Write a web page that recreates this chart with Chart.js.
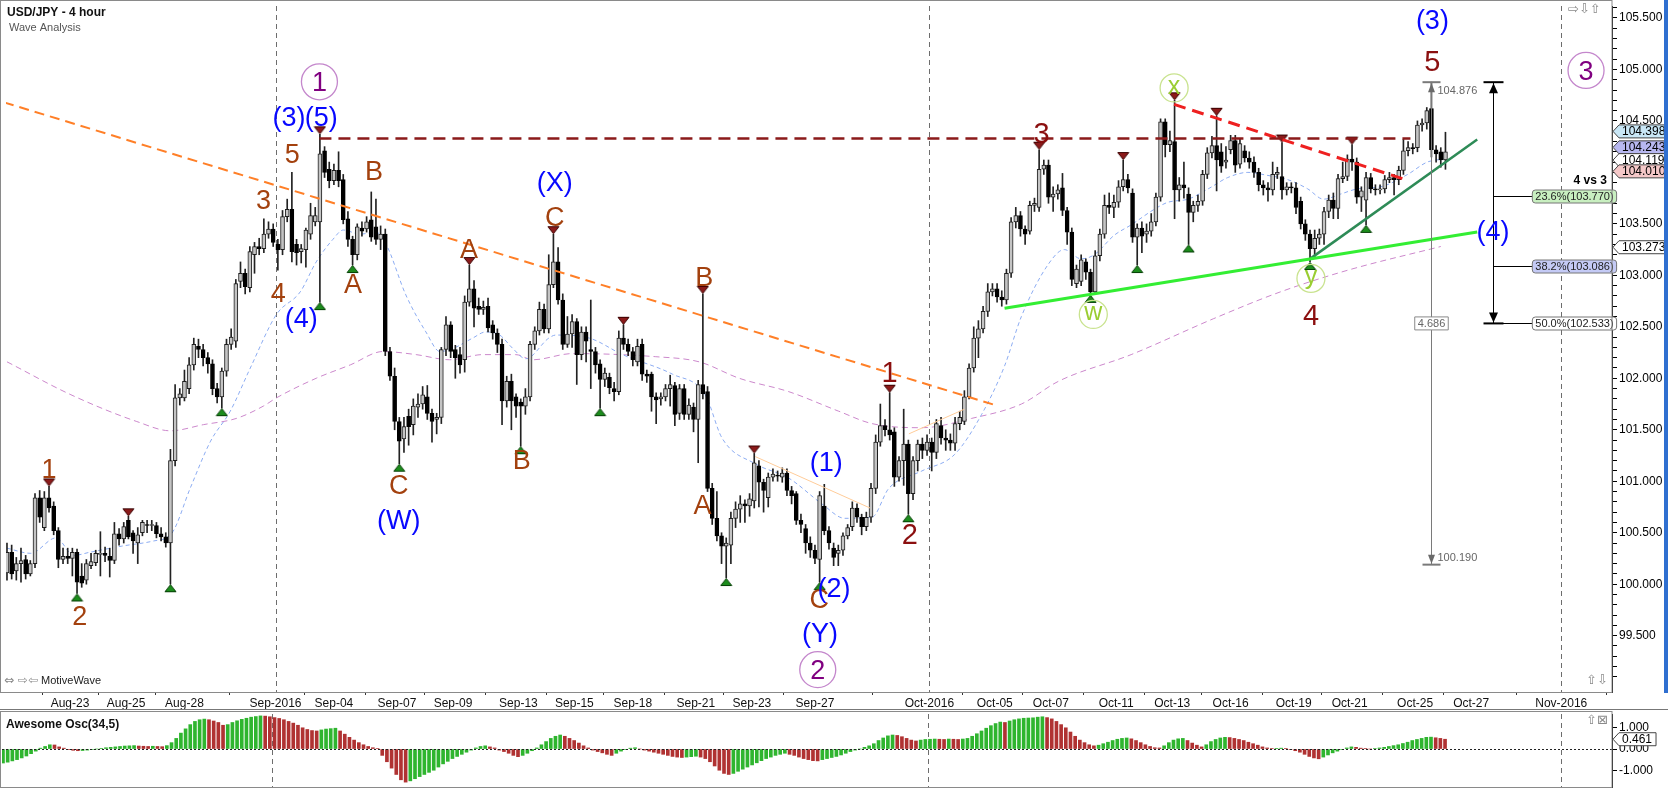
<!DOCTYPE html>
<html>
<head>
<meta charset="utf-8">
<title>USD/JPY - 4 hour</title>
<script src="https://cdn.jsdelivr.net/npm/chart.js@4.4.0/dist/chart.umd.min.js"></script>
<style>
  html, body { margin: 0; padding: 0; background: #fff; overflow: hidden; }
  #wrap { position: relative; width: 1668px; height: 789px; }
  canvas { position: absolute; left: 0; }
  #main { top: 0; }
  #osc { top: 711px; }
  #edge { position: absolute; left: 1664px; top: 0; width: 4px; height: 693px; background: #2f6fd0; }
</style>
</head>
<body>
<div id="wrap">
  <canvas id="main" width="1668" height="711"></canvas>
  <canvas id="osc" width="1668" height="78"></canvas>
  <div id="edge"></div>
</div>
<script>
// 4-hour candles [open, high, low, close], one array per trading week
const wkAug19 = [
  [100.11,100.40,100.04,100.31],[100.31,100.38,100.05,100.10],[100.13,100.26,100.04,100.20],[100.20,100.35,100.02,100.23],
  [100.24,100.28,100.05,100.10],[100.10,100.23,100.08,100.20]
];
const wkAug21 = [
  [100.20,100.88,100.16,100.84],[100.84,100.91,100.60,100.65],[100.55,100.90,100.52,100.84],[100.84,100.95,100.70,100.74],
  [100.76,100.80,100.48,100.52],[100.52,100.55,100.16,100.24],[100.24,100.35,100.20,100.27],[100.27,100.35,100.20,100.25],
  [100.25,100.35,100.08,100.31],[100.31,100.34,99.91,100.02],[100.08,100.20,99.97,100.01],[100.04,100.24,100.00,100.20],
  [100.18,100.30,100.15,100.22],[100.21,100.33,100.18,100.30],[100.29,100.51,100.08,100.30],[100.30,100.36,100.22,100.28],
  [100.27,100.35,100.07,100.23],[100.23,100.60,100.20,100.49],[100.49,100.54,100.38,100.44],[100.44,100.60,100.40,100.56],
  [100.62,100.66,100.44,100.46],[100.50,100.52,100.30,100.42],[100.40,100.55,100.20,100.48],[100.50,100.62,100.47,100.60],
  [100.58,100.62,100.50,100.57],[100.57,100.62,100.52,100.58],[100.57,100.60,100.45,100.49],[100.49,100.55,100.42,100.46],
  [100.46,100.50,100.36,100.40],[100.40,101.31,100.00,101.20],[101.20,101.94,101.15,101.81],[101.81,101.90,101.74,101.85]
];
const wkAug28 = [
  [101.81,102.08,101.78,101.97],[101.90,102.20,101.85,102.13],[102.13,102.39,102.08,102.33],[102.31,102.38,102.20,102.28],
  [102.28,102.33,102.12,102.20],[102.20,102.25,102.05,102.14],[102.14,102.18,101.84,101.90],[101.90,101.95,101.76,101.82],
  [101.82,102.10,101.71,102.07],[102.07,102.38,102.02,102.33],[102.33,102.48,102.28,102.40],[102.36,102.96,102.30,102.92],
  [102.94,103.13,102.88,103.02],[103.02,103.06,102.82,102.89],[102.88,103.28,102.84,103.23],[103.20,103.32,103.02,103.28],
  [103.28,103.36,103.20,103.26],[103.26,103.55,103.22,103.40],[103.40,103.52,103.36,103.45],[103.45,103.50,103.28,103.32],
  [103.30,103.35,103.05,103.25],[103.25,103.63,103.20,103.57],[103.57,103.74,103.52,103.64],[103.64,104.00,103.13,103.23],
  [103.30,103.35,103.10,103.22],[103.23,103.30,103.12,103.26],[103.25,103.46,103.08,103.44],[103.40,103.70,103.35,103.58],
  [103.52,103.66,103.48,103.58],[103.52,104.37,102.74,104.18],[104.21,104.25,103.95,104.00],[104.03,104.10,103.85,103.92]
];
const wkSep04 = [
  [103.92,104.08,103.88,104.02],[104.02,104.20,103.86,103.92],[103.93,103.98,103.50,103.54],[103.55,103.62,103.28,103.35],
  [103.35,103.38,103.10,103.20],[103.20,103.50,103.15,103.47],[103.46,103.52,103.38,103.43],[103.45,103.57,103.42,103.52],
  [103.54,103.81,103.33,103.37],[103.47,103.74,103.30,103.35],[103.35,103.48,103.25,103.40],[103.40,103.45,102.22,102.26],
  [102.26,102.30,101.98,102.02],[102.02,102.10,101.50,101.58],[101.58,101.62,101.17,101.39],[101.41,101.62,101.28,101.53],
  [101.63,101.70,101.35,101.53],[101.55,101.80,101.45,101.73],[101.72,101.85,101.62,101.75],[101.75,101.92,101.70,101.84],
  [101.82,101.93,101.60,101.66],[101.66,101.70,101.38,101.58],[101.60,101.66,101.46,101.62],[101.62,102.30,101.56,102.28],
  [102.28,102.60,102.22,102.52],[102.52,102.55,102.20,102.26],[102.28,102.32,102.00,102.20],[102.23,102.30,102.05,102.13],
  [102.18,102.80,102.06,102.74],[102.74,103.10,102.70,102.87],[102.87,102.95,102.50,102.68],[102.70,102.78,102.62,102.67]
];
const wkSep11 = [
  [102.67,102.75,102.62,102.69],[102.70,102.78,102.45,102.49],[102.52,102.56,102.38,102.44],[102.44,102.48,102.25,102.33],
  [102.33,102.38,101.55,101.78],[101.78,102.02,101.72,101.97],[101.97,102.04,101.50,101.78],[101.82,101.85,101.62,101.73],
  [101.77,101.80,101.34,101.73],[101.73,101.90,101.65,101.82],[101.82,102.36,101.78,102.33],[102.33,102.50,102.28,102.46],
  [102.46,102.74,102.42,102.67],[102.67,102.72,102.44,102.48],[102.48,103.20,102.44,102.91],[102.91,103.40,102.88,103.13],
  [103.13,103.27,102.72,102.76],[102.76,102.82,102.28,102.33],[102.33,102.60,102.30,102.43],[102.43,102.62,102.30,102.55],
  [102.55,102.58,101.94,102.23],[102.23,102.50,102.18,102.45],[102.45,102.50,102.16,102.36],[102.28,102.76,101.90,102.26],
  [102.26,102.30,102.05,102.13],[102.14,102.18,101.71,101.99],[101.99,102.10,101.92,102.05],[102.01,102.05,101.85,101.91],
  [101.90,101.96,101.78,101.87],[101.87,102.46,101.84,102.39],[102.39,102.52,102.28,102.33],[102.33,102.38,102.22,102.26]
];
const wkSep18 = [
  [102.26,102.30,102.12,102.18],[102.16,102.38,102.12,102.31],[102.33,102.38,101.98,102.04],[102.04,102.08,101.96,102.02],
  [102.04,102.06,101.68,101.82],[101.82,101.86,101.56,101.79],[101.80,101.86,101.74,101.82],[101.82,101.94,101.78,101.90],
  [101.90,102.03,101.73,101.94],[101.93,101.96,101.54,101.65],[101.66,101.94,101.60,101.90],[101.90,101.94,101.60,101.65],
  [101.65,101.80,101.60,101.74],[101.72,101.76,101.48,101.60],[101.60,101.98,101.18,101.94],[101.94,102.82,101.80,101.85],
  [101.87,101.92,100.90,100.93],[100.93,100.98,100.58,100.64],[100.64,100.90,100.42,100.47],[100.47,100.50,100.20,100.37],
  [100.37,100.45,100.06,100.40],[100.38,100.70,100.20,100.64],[100.64,100.80,100.55,100.73],[100.73,100.86,100.60,100.78],
  [100.78,100.82,100.60,100.76],[100.76,100.88,100.66,100.83],[100.81,101.27,100.74,101.18],[101.15,101.20,100.75,100.99],
  [100.99,101.02,100.70,100.91],[100.84,101.08,100.75,101.04],[101.04,101.12,101.00,101.07],[101.06,101.10,101.00,101.05]
];
const wkSep25 = [
  [101.04,101.13,100.99,101.08],[101.08,101.12,100.86,100.91],[100.91,100.95,100.78,100.86],[100.88,100.90,100.58,100.62],
  [100.62,100.68,100.50,100.58],[100.54,100.58,100.30,100.40],[100.40,100.46,100.26,100.33],[100.33,100.38,100.20,100.25],
  [100.24,100.90,100.02,100.86],[100.76,100.97,100.48,100.52],[100.52,100.56,100.34,100.40],[100.35,100.40,100.18,100.26],
  [100.30,100.38,100.18,100.33],[100.33,100.50,100.28,100.47],[100.47,100.58,100.44,100.55],[100.56,100.80,100.52,100.74],
  [100.74,100.78,100.60,100.65],[100.65,100.68,100.48,100.56],[100.56,100.70,100.52,100.65],[100.65,100.98,100.60,100.93],
  [100.93,101.45,100.88,101.38],[101.38,101.75,101.34,101.54],[101.54,101.60,101.44,101.50],[101.50,101.86,101.40,101.45],
  [101.48,101.52,100.95,101.04],[101.04,101.24,101.00,101.20],[101.20,101.70,100.96,101.36],[101.36,101.40,100.68,100.88],
  [100.88,101.24,100.82,101.20],[101.20,101.40,101.10,101.36],[101.36,101.42,101.22,101.30],[101.30,101.45,101.25,101.38]
];
const wkOct02 = [
  [101.38,101.42,101.10,101.28],[101.28,101.60,101.22,101.56],[101.54,101.62,101.36,101.42],[101.42,101.50,101.30,101.40],
  [101.40,101.46,101.30,101.37],[101.37,101.62,101.30,101.56],[101.56,101.68,101.50,101.62],[101.58,101.88,101.55,101.82],
  [101.82,102.14,101.80,102.10],[102.10,102.50,102.06,102.39],[102.39,102.56,102.20,102.48],[102.48,102.70,102.44,102.65],
  [102.65,102.92,102.60,102.84],[102.84,102.92,102.80,102.87],[102.87,102.92,102.74,102.79],[102.79,102.85,102.70,102.76],
  [102.76,103.06,102.72,103.02],[103.02,103.56,102.98,103.52],[103.52,103.66,103.46,103.58],[103.58,103.62,103.38,103.45],
  [103.45,103.48,103.30,103.40],[103.43,103.72,103.40,103.68],[103.68,103.75,103.62,103.70],[103.66,104.22,103.62,104.03],
  [104.03,104.12,103.98,104.07],[104.07,104.12,103.70,103.76],[103.76,103.86,103.62,103.79],[103.79,103.88,103.74,103.83],
  [103.85,103.99,103.58,103.63],[103.63,103.66,103.30,103.42],[103.42,103.46,102.90,102.96],[102.92,103.10,102.88,103.06]
];
const wkOct09 = [
  [102.94,103.20,102.90,103.15],[103.13,103.16,102.96,103.03],[103.03,103.06,102.81,102.84],[102.84,103.24,102.82,103.19],
  [103.19,103.45,103.14,103.40],[103.40,103.78,103.36,103.68],[103.68,103.80,103.60,103.66],[103.66,103.78,103.56,103.71],
  [103.71,103.92,103.66,103.86],[103.86,104.12,103.82,103.93],[103.93,103.98,103.80,103.85],[103.80,103.84,103.32,103.37],
  [103.37,103.50,103.10,103.46],[103.46,103.52,103.22,103.38],[103.40,103.50,103.32,103.43],[103.43,103.60,103.38,103.52],
  [103.52,103.80,103.48,103.76],[103.76,104.52,103.72,104.49],[104.49,104.52,104.15,104.27],[104.27,104.40,104.20,104.31],
  [104.30,104.70,103.55,103.83],[103.83,103.95,103.72,103.88],[103.88,104.10,103.75,103.85],[103.79,103.85,103.30,103.61],
  [103.61,103.72,103.52,103.68],[103.68,103.78,103.62,103.72],[103.72,104.02,103.68,103.98],[103.98,104.24,103.94,104.19],
  [104.19,104.35,104.14,104.26],[104.26,104.55,103.82,104.12],[104.20,104.28,104.00,104.06],[104.10,104.25,104.04,104.12]
];
const wkOct16 = [
  [104.22,104.36,104.18,104.31],[104.31,104.36,104.00,104.07],[104.08,104.33,104.04,104.28],[104.21,104.26,104.10,104.14],
  [104.14,104.20,104.04,104.10],[104.10,104.15,103.95,104.00],[104.00,104.04,103.82,103.88],[103.88,103.92,103.78,103.85],
  [103.85,103.90,103.72,103.83],[103.83,104.10,103.78,103.98],[103.98,104.05,103.94,104.00],[103.96,104.29,103.74,103.83],
  [103.83,103.90,103.78,103.86],[103.86,103.90,103.80,103.85],[103.85,103.90,103.60,103.66],[103.72,103.76,103.45,103.50],
  [103.50,103.54,103.34,103.40],[103.40,103.44,103.13,103.26],[103.26,103.44,103.18,103.36],[103.36,103.45,103.30,103.40],
  [103.40,103.66,103.30,103.62],[103.62,103.78,103.56,103.73],[103.73,103.80,103.55,103.65],[103.65,103.98,103.55,103.94],
  [103.94,104.10,103.90,103.96],[103.96,104.17,103.92,104.13],[104.13,104.27,104.02,104.10],[104.10,104.14,103.70,103.76],
  [103.76,103.86,103.62,103.82],[103.73,104.00,103.49,103.95],[103.95,103.99,103.80,103.84],[103.84,103.88,103.78,103.83]
];
const wkOct23 = [
  [103.83,103.88,103.79,103.84],[103.84,103.97,103.80,103.93],[103.93,104.00,103.90,103.95],[103.95,103.98,103.78,103.93],
  [103.93,104.06,103.88,104.02],[104.02,104.32,103.98,104.21],[104.21,104.30,104.16,104.24],[104.24,104.28,104.18,104.23],
  [104.24,104.50,104.20,104.46],[104.46,104.52,104.40,104.48],[104.48,104.63,104.42,104.60],[104.62,104.876,104.15,104.22],
  [104.22,104.26,104.10,104.18],[104.20,104.24,104.05,104.12],[104.12,104.39,104.03,104.20]
];

// Awesome Oscillator (34,5), one value per candle
const aoValues = [
  -0.66,-0.62,-0.56,-0.5,-0.42,-0.33,-0.22,-0.1,0.04,0.12,
  0.2,0.19,0.1,0.04,-0.02,-0.06,-0.08,-0.07,-0.05,-0.02,
  0,0.03,0.06,0.08,0.1,0.12,0.14,0.15,0.16,0.14,
  0.13,0.12,0.13,0.12,0.11,0.16,0.3,0.5,0.75,0.95,
  1.15,1.3,1.38,1.41,1.38,1.32,1.25,1.12,1.15,1.25,
  1.33,1.4,1.45,1.5,1.53,1.56,1.55,1.52,1.48,1.44,
  1.38,1.3,1.22,1.12,1.0,0.92,0.87,0.85,0.9,0.94,
  0.96,0.98,0.85,0.7,0.55,0.42,0.3,0.2,0.12,0.06,
  0.02,-0.3,-0.6,-0.9,-1.2,-1.45,-1.56,-1.5,-1.4,-1.3,
  -1.2,-1.1,-1.0,-0.85,-0.7,-0.58,-0.45,-0.35,-0.25,-0.15,
  -0.05,0.05,0.12,0.15,0.1,0.05,-0.05,-0.12,-0.2,-0.3,
  -0.36,-0.3,-0.2,-0.08,0.05,0.2,0.35,0.5,0.6,0.66,
  0.6,0.5,0.4,0.28,0.15,0.05,-0.05,-0.12,-0.18,-0.25,
  -0.3,-0.2,-0.1,-0.02,0.04,0.06,0,-0.05,-0.1,-0.15,
  -0.2,-0.25,-0.3,-0.35,-0.38,-0.4,-0.38,-0.36,-0.34,-0.38,
  -0.45,-0.6,-0.8,-1.0,-1.15,-1.2,-1.15,-1.05,-0.95,-0.85,
  -0.75,-0.65,-0.55,-0.45,-0.38,-0.3,-0.25,-0.2,-0.25,-0.3,
  -0.38,-0.45,-0.5,-0.55,-0.56,-0.5,-0.45,-0.4,-0.35,-0.28,
  -0.2,-0.12,-0.05,0,0.08,0.15,0.25,0.4,0.52,0.62,
  0.66,0.64,0.58,0.5,0.42,0.38,0.42,0.45,0.46,0.47,
  0.46,0.45,0.47,0.46,0.45,0.47,0.5,0.6,0.72,0.85,
  0.98,1.1,1.2,1.27,1.25,1.32,1.38,1.42,1.45,1.46,
  1.47,1.5,1.52,1.48,1.42,1.3,1.15,1.0,0.8,0.6,
  0.42,0.3,0.2,0.15,0.18,0.25,0.32,0.4,0.46,0.5,
  0.52,0.48,0.4,0.3,0.2,0.12,0.06,0.05,0.15,0.3,
  0.42,0.48,0.5,0.4,0.28,0.18,0.1,0.2,0.35,0.45,
  0.52,0.55,0.54,0.5,0.45,0.4,0.32,0.25,0.18,0.1,
  0.05,0.02,0.03,0.04,0.02,-0.02,-0.08,-0.15,-0.25,-0.35,
  -0.42,-0.46,-0.38,-0.28,-0.18,-0.1,-0.02,0.05,0.1,0.08,
  0.04,0.02,0,0.02,0.05,0.08,0.12,0.16,0.2,0.26,
  0.32,0.4,0.45,0.5,0.55,0.56,0.53,0.5,0.461
];

// moving averages: [candle index, price]
const fastMa = [
  [0,100.35],[5.1,100.30],[10.5,100.45],[14.3,100.28],[17.7,100.31],[24.6,100.37],[31.4,100.42],[35.2,100.49],
  [39.3,100.94],[43.6,101.39],[47.8,101.68],[52.1,102.10],[57.7,102.62],[62.8,102.84],[66.2,103.13],[69.8,103.35],
  [72,103.44],[75.6,103.40],[79,103.42],[81.2,103.30],[85.4,102.81],[89.7,102.45],[92.7,102.26],[95.5,102.29],
  [99.7,102.39],[102.5,102.45],[105.5,102.42],[108.3,102.29],[111.1,102.19],[116,102.39],[117.5,102.42],[124.7,102.39],
  [131.8,102.23],[142.5,102.04],[149.5,101.84],[153.1,101.42],[160.2,101.17],[167.4,101.03],[174.5,100.78],[179.4,100.64],
  [185.2,100.65],[188.8,100.93],[195.9,101.10],[202.9,101.26],[208.7,101.65],[213.6,102.12],[217.2,102.60],[223,103.11],
  [226.4,103.25],[230,103.16],[232.8,103.20],[237.1,103.39],[240.7,103.49],[245.6,103.64],[248.6,103.71],[252.9,103.74],
  [257.2,103.84],[261.4,103.95],[265.7,104.00],[270,103.97],[274.2,103.93],[278.5,103.84],[281.9,103.74],[285.6,103.79],
  [289.2,103.84],[294.1,103.86],[299.9,103.98],[304.1,104.10],[307.6,104.13]
];
const slowMa = [
  [0,102.16],[13.7,101.84],[27.8,101.58],[35,101.49],[42.1,101.55],[49.1,101.61],[54.9,101.73],[57.7,101.81],
  [66.2,102.00],[73.5,102.13],[80.5,102.26],[87.6,102.23],[94.8,102.18],[101.9,102.23],[108.9,102.23],[112.6,102.18],
  [121.1,102.24],[138.8,102.21],[148.2,102.16],[156.8,102.00],[167.4,101.87],[178.1,101.68],[185.2,101.56],[195.9,101.52],
  [206.5,101.61],[217.2,101.75],[225.1,101.97],[240.7,102.23],[258.4,102.58],[272.7,102.84],[287.1,103.05],[307,103.28]
];

// time axis
const dateTickIdx = [13.5,25.5,38,57.5,70,83.5,95.5,109.5,121.5,134,147.5,159.5,173,197.5,211.5,223.5,237.5,249.5,262,275.5,287.5,301.5,313.5,332.8];
const dateTickLabels = ['Aug-23','Aug-25','Aug-28','Sep-2016','Sep-04','Sep-07','Sep-09','Sep-13','Sep-15','Sep-18','Sep-21','Sep-23','Sep-27','Oct-2016','Oct-05','Oct-07','Oct-11','Oct-13','Oct-16','Oct-19','Oct-21','Oct-25','Oct-27','Nov-2016'];
const monthLineIdx = [57.5, 197.5, 332.8];

// price axis: labelled levels every 0.5, small ticks every 0.1
const priceLabelMin = 99.5, priceLabelMax = 105.5;

// swing markers (candle indices)
const highMarks = [9, 26, 67, 99, 117, 132, 149, 160, 189, 221, 239, 250, 259, 273, 288];
const lowMarks = [15, 35, 46, 67, 74, 84, 110, 127, 154, 174, 193, 232, 242, 253, 279, 291];

// price tags on the right axis
const axisTags = [[104.398,'#c9e7f6'],[104.243,'#b7b7f0'],[104.119,'#ffffff'],[104.010,'#f5c8c8'],[103.273,'#ffffff']];

// wave labels: [text, candle index, price, style]
const waveLabels = [
  ['1',9.0,101.13,'brown'],['2',15.6,99.70,'brown'],['3',54.9,103.74,'brown'],['4',58.1,102.84,'brown'],
  ['5',61.1,104.19,'brown'],['(3)',60.4,104.53,'blue'],['(5)',67.3,104.53,'blue'],['(4)',63.0,102.58,'blue'],
  ['A',74.1,102.92,'brown'],['B',78.6,104.02,'brown'],['C',83.9,100.97,'brown'],['(W)',83.9,100.62,'blue'],
  ['A',98.9,103.26,'brown'],['B',110.2,101.21,'brown'],['C',117.3,103.57,'brown'],['(X)',117.3,103.90,'blue'],
  ['B',149.3,102.99,'brown'],['A',148.9,100.78,'brown'],['(1)',175.4,101.18,'blue'],['C',173.9,99.86,'brown'],
  ['(2)',177.1,99.96,'blue'],['(Y)',174.1,99.52,'blue'],['1',189.0,102.07,'maroon'],['2',193.3,100.49,'maroon'],
  ['3',221.5,104.39,'maroon'],['4',279.2,102.62,'maroon'],['5',305.2,105.09,'maroon'],['(3)',305.2,105.47,'blue'],
  ['(4)',318.2,103.42,'blue']
];
const circledLabels = [
  ['1',66.9,104.88,'purple'],['2',173.6,99.17,'purple'],['3',338.1,104.99,'purple'],
  ['x',249.9,104.82,'lime'],['w',232.6,102.62,'lime'],['y',279.2,102.97,'lime']
];

// drawn lines: endpoints in [candle index, price]
const trendLines = [
  { pts: [[-0.64,104.68],[212.3,101.73]], color: '#ff7f27', width: 2, dash: [10,6] },
  { pts: [[66.9,104.33],[300.5,104.33]], color: '#8b1a1a', width: 2.5, dash: [12,7] },
  { pts: [[249.9,104.66],[300.1,103.92]], color: '#ee2020', width: 3, dash: [12,7] },
  { pts: [[213.6,102.68],[314.8,103.42]], color: '#33ee33', width: 3, dash: [] },
  { pts: [[278.7,103.15],[314.8,104.32]], color: '#2e8b57', width: 2.5, dash: [] },
  { pts: [[160.2,101.24],[184.8,100.74]], color: '#ffcc99', width: 1, dash: [] },
  { pts: [[193.1,101.46],[205.0,101.70]], color: '#ffcc99', width: 1, dash: [] }
];

// measurement of wave (3) and its retracement levels
const measureTool = { idx: 305, from: 104.876, to: 100.190 };
const fibTool = { idx: 318.2, boxIdx: 326.6, ratios: [0.236, 0.382, 0.5], colors: ['#c8efc0','#c4caf5','#ffffff'] };

const candles = [].concat(wkAug19, wkAug21, wkAug28, wkSep04, wkSep11, wkSep18, wkSep25, wkOct02, wkOct09, wkOct16, wkOct23);

const X_MIN = -0.21, X_MAX = 343.66;
const Y_MIN = 98.953, Y_MAX = 105.616;
const FONT = "'Liberation Sans', Arial, sans-serif";

Chart.defaults.font.family = FONT;
Chart.defaults.font.size = 12;
Chart.defaults.color = '#000';

function triImage(down, fill, stroke) {
  const c = document.createElement('canvas');
  c.width = 13; c.height = 18;
  const g = c.getContext('2d');
  g.beginPath();
  if (down) { g.moveTo(1, 1.5); g.lineTo(12, 1.5); g.lineTo(6.5, 8.5); }
  else { g.moveTo(1, 16.5); g.lineTo(12, 16.5); g.lineTo(6.5, 9.5); }
  g.closePath();
  g.fillStyle = fill; g.fill();
  g.strokeStyle = stroke; g.lineWidth = 1; g.stroke();
  return c;
}
const downTri = triImage(true, '#8b1a1a', '#3a0000');
const upTri = triImage(false, '#1c8c1c', '#064006');

function line(ctx, x1, y1, x2, y2) {
  ctx.beginPath(); ctx.moveTo(x1, y1); ctx.lineTo(x2, y2); ctx.stroke();
}
function arrowHead(ctx, x, y, w, h, up, fill) {
  ctx.beginPath(); ctx.moveTo(x, y);
  const by = up ? y + h : y - h;
  ctx.lineTo(x - w / 2, by); ctx.lineTo(x + w / 2, by); ctx.closePath();
  ctx.fillStyle = fill; ctx.fill();
}
function box(ctx, x, y, w, h, r, bg, border) {
  ctx.beginPath();
  if (ctx.roundRect) ctx.roundRect(x, y, w, h, r); else ctx.rect(x, y, w, h);
  ctx.fillStyle = bg; ctx.fill();
  ctx.strokeStyle = border; ctx.lineWidth = 1; ctx.stroke();
}
function axisTag(ctx, x, y, text, bg) {
  ctx.font = '12px ' + FONT;
  const w = ctx.measureText(text).width + 6;
  ctx.beginPath();
  ctx.moveTo(x + 1, y);
  ctx.lineTo(x + 7, y - 6.5);
  ctx.lineTo(x + 8 + w, y - 6.5);
  ctx.lineTo(x + 8 + w, y + 6.5);
  ctx.lineTo(x + 7, y + 6.5);
  ctx.closePath();
  ctx.fillStyle = bg; ctx.fill();
  ctx.strokeStyle = '#444'; ctx.lineWidth = 1; ctx.stroke();
  ctx.fillStyle = '#000'; ctx.textAlign = 'left'; ctx.textBaseline = 'middle';
  ctx.fillText(text, x + 10, y + 0.5);
}

const labelColors = { brown: '#a3410e', maroon: '#8b0f0f', blue: '#0808ff' };
const labelSizes = { brown: 27, maroon: 29, blue: 27 };
const circleStyles = {
  purple: { text: '#800080', ring: '#c487cc', r: 18, size: 27 },
  lime: { text: '#9acd32', ring: '#c9e38f', r: 14, size: 25 }
};

const mainDecor = {
  id: 'mainDecor',
  beforeDatasetsDraw(chart) {
    const { ctx, chartArea: a, scales: { x } } = chart;
    ctx.save();
    ctx.strokeStyle = '#6d6d6d'; ctx.lineWidth = 1; ctx.setLineDash([5, 4]);
    monthLineIdx.forEach(v => {
      const px = Math.round(x.getPixelForValue(v)) + 0.5;
      line(ctx, px, a.top, px, a.bottom);
    });
    ctx.restore();
  },
  afterDatasetsDraw(chart) {
    const { ctx, scales: { x, y } } = chart;
    const X = v => x.getPixelForValue(v), Y = v => y.getPixelForValue(v);
    ctx.save();

    // measurement tool (grey)
    const mx = Math.round(X(measureTool.idx)) + 0.5;
    const my1 = Y(measureTool.from), my2 = Y(measureTool.to);
    ctx.strokeStyle = '#7a7a7a'; ctx.lineWidth = 1;
    line(ctx, mx, my1, mx, my2);
    ctx.lineWidth = 2;
    line(ctx, mx - 9, my1, mx + 9, my1);
    line(ctx, mx - 9, my2, mx + 9, my2);
    arrowHead(ctx, mx, my1 + 1, 7, 9, true, '#6a6a6a');
    arrowHead(ctx, mx, my2 - 1, 7, 9, false, '#6a6a6a');
    ctx.font = '11px ' + FONT; ctx.fillStyle = '#666'; ctx.textAlign = 'left'; ctx.textBaseline = 'middle';
    ctx.fillText(measureTool.from.toFixed(3), mx + 6, my1 + 9);
    ctx.fillText(measureTool.to.toFixed(3), mx + 6, my2 - 7);
    const span = (measureTool.from - measureTool.to).toFixed(3);
    const sw = ctx.measureText(span).width + 6;
    const smy = Y((measureTool.from + measureTool.to) / 2);
    box(ctx, mx - sw / 2, smy - 6.5, sw, 13, 0, '#fff', '#8a8a8a');
    ctx.fillStyle = '#666'; ctx.textAlign = 'center';
    ctx.fillText(span, mx, smy + 0.5);

    // retracement tool (black)
    const fx = Math.round(X(fibTool.idx)) + 0.5;
    const bx = X(fibTool.boxIdx);
    const range = measureTool.from - measureTool.to;
    const levels = fibTool.ratios.map(r => measureTool.from - r * range);
    const fyTop = my1, fyBot = Y(levels[levels.length - 1]);
    ctx.strokeStyle = '#000'; ctx.lineWidth = 1;
    line(ctx, fx, fyTop, fx, fyBot);
    ctx.lineWidth = 2;
    line(ctx, fx - 10, fyTop, fx + 10, fyTop);
    line(ctx, fx - 10, fyBot, fx + 10, fyBot);
    arrowHead(ctx, fx, fyTop + 1, 9, 10, true, '#000');
    arrowHead(ctx, fx, fyBot - 1, 9, 10, false, '#000');
    ctx.font = '11px ' + FONT;
    levels.forEach((lv, k) => {
      const ly = Math.round(Y(lv)) + 0.5;
      ctx.strokeStyle = '#000'; ctx.lineWidth = 1;
      line(ctx, fx, ly, bx, ly);
      const txt = (fibTool.ratios[k] * 100).toFixed(1) + '%(' + lv.toFixed(3) + ')';
      const tw = ctx.measureText(txt).width + 6;
      box(ctx, bx, ly - 6.5, tw, 13, 3, fibTool.colors[k], '#777');
      ctx.fillStyle = '#222'; ctx.textAlign = 'left'; ctx.textBaseline = 'middle';
      ctx.fillText(txt, bx + 3, ly + 0.5);
    });
    ctx.font = 'bold 12px ' + FONT; ctx.fillStyle = '#000'; ctx.textAlign = 'center';
    ctx.fillText('4 vs 3', X(339.0), Y(103.92));

    // wave labels
    ctx.textAlign = 'center'; ctx.textBaseline = 'alphabetic';
    waveLabels.forEach(([t, i, p, s]) => {
      const size = labelSizes[s];
      ctx.font = size + 'px ' + FONT;
      ctx.fillStyle = labelColors[s];
      const off = t.indexOf('(') >= 0 ? 0.31 : 0.36;
      ctx.fillText(t, X(i), Y(p) + size * off);
    });
    circledLabels.forEach(([t, i, p, s]) => {
      const st = circleStyles[s];
      const cx = X(i), cy = Y(p);
      ctx.beginPath(); ctx.arc(cx, cy, st.r, 0, Math.PI * 2);
      ctx.strokeStyle = st.ring; ctx.lineWidth = 1.3; ctx.stroke();
      ctx.font = st.size + 'px ' + FONT; ctx.fillStyle = st.text;
      const off = /[0-9]/.test(t) ? 0.36 : 0.24;
      ctx.fillText(t, cx, cy + st.size * off);
    });

    // header and footer texts
    ctx.textAlign = 'left'; ctx.textBaseline = 'middle';
    ctx.font = 'bold 12px ' + FONT; ctx.fillStyle = '#111';
    ctx.fillText('USD/JPY - 4 hour', 7, 13);
    ctx.font = '11px ' + FONT; ctx.fillStyle = '#555';
    ctx.fillText('Wave Analysis', 9, 28);
    ctx.font = "12px 'DejaVu Sans'"; ctx.fillStyle = '#8a8a8a';
    ctx.fillText('\u21D4 \u21E8\u21E6', 4, 681);
    ctx.font = '11px ' + FONT; ctx.fillStyle = '#222';
    ctx.fillText('MotiveWave', 41, 681);
    ctx.font = "13px 'DejaVu Sans'"; ctx.fillStyle = '#8a8a8a';
    ctx.fillText('\u21E8\u21E9\u21E7', 1568, 10);
    ctx.fillText('\u21E7\u21E9', 1586, 681);
    ctx.restore();
  },
  afterDraw(chart) {
    const { ctx, chartArea: a, scales: { y } } = chart;
    ctx.save();
    axisTags.forEach(([v, bg]) => axisTag(ctx, a.right, y.getPixelForValue(v), v.toFixed(3), bg));
    ctx.strokeStyle = '#8a8a8a'; ctx.lineWidth = 1;
    ctx.strokeRect(0.5, 0.5, a.right - 0.5, a.bottom);
    ctx.strokeStyle = '#777';
    line(ctx, 0, 709.5, 1668, 709.5);
    ctx.restore();
  }
};

const oscDecor = {
  id: 'oscDecor',
  beforeDatasetsDraw(chart) {
    const { ctx, chartArea: a, scales: { x } } = chart;
    ctx.save();
    ctx.strokeStyle = '#6d6d6d'; ctx.lineWidth = 1; ctx.setLineDash([5, 4]);
    monthLineIdx.forEach(v => {
      const px = Math.round(x.getPixelForValue(v)) + 0.5;
      line(ctx, px, a.top, px, a.bottom);
    });
    ctx.restore();
  },
  afterDatasetsDraw(chart) {
    const { ctx, chartArea: a, scales: { y } } = chart;
    ctx.save();
    ctx.strokeStyle = '#222'; ctx.lineWidth = 1; ctx.setLineDash([2, 2]);
    const zy = Math.round(y.getPixelForValue(0)) + 0.5;
    line(ctx, a.left, zy, a.right, zy);
    ctx.setLineDash([]);
    ctx.font = 'bold 12px ' + FONT; ctx.fillStyle = '#111';
    ctx.textAlign = 'left'; ctx.textBaseline = 'middle';
    ctx.fillText('Awesome Osc(34,5)', 6, 14);
    ctx.font = "13px 'DejaVu Sans'"; ctx.fillStyle = '#8a8a8a';
    ctx.fillText('\u21E7\u22A0', 1586, 10);
    ctx.restore();
  },
  afterDraw(chart) {
    const { ctx, chartArea: a, scales: { y } } = chart;
    ctx.save();
    const last = aoValues[aoValues.length - 1];
    axisTag(ctx, a.right, y.getPixelForValue(last), last.toFixed(3), '#ffffff');
    ctx.strokeStyle = '#8a8a8a'; ctx.lineWidth = 1;
    ctx.strokeRect(0.5, 0.5, a.right - 0.5, a.bottom);
    ctx.restore();
  }
};

// candle bodies and wicks
const bodyData = candles.map((c, i) => ({ x: i, y: [c[0], c[3]] }));
const bodyFill = candles.map(c => c[3] >= c[0] ? '#c4c4c4' : '#000000');
const bodyEdge = candles.map(c => c[3] >= c[0] ? '#1e1e1e' : '#000000');
const wickData = candles.map((c, i) => ({ x: i, y: [c[2], c[1]] }));

const lineSets = trendLines.map(t => ({
  type: 'line',
  data: t.pts.map(p => ({ x: p[0], y: p[1] })),
  borderColor: t.color, borderWidth: t.width, borderDash: t.dash,
  borderCapStyle: 'butt', pointRadius: 0, fill: false, order: 0
}));

new Chart(document.getElementById('main'), {
  type: 'bar',
  data: {
    datasets: [
      ...lineSets,
      {
        type: 'line', showLine: false, order: 1,
        data: highMarks.map(i => ({ x: i, y: candles[i][1] })),
        pointStyle: downTri, pointRadius: 5
      },
      {
        type: 'line', showLine: false, order: 1,
        data: lowMarks.map(i => ({ x: i, y: candles[i][2] })),
        pointStyle: upTri, pointRadius: 5
      },
      {
        type: 'bar', order: 2, grouped: false,
        data: bodyData, backgroundColor: bodyFill, borderColor: bodyEdge,
        borderWidth: 1, borderSkipped: false, barThickness: 4, minBarLength: 1
      },
      {
        type: 'bar', order: 3, grouped: false,
        data: wickData, backgroundColor: '#222', borderWidth: 0, barThickness: 1
      },
      {
        type: 'line', order: 4,
        data: fastMa.map(p => ({ x: p[0], y: p[1] })),
        borderColor: '#8cacf2', borderWidth: 1, borderDash: [4, 3],
        pointRadius: 0, cubicInterpolationMode: 'monotone', fill: false
      },
      {
        type: 'line', order: 4,
        data: slowMa.map(p => ({ x: p[0], y: p[1] })),
        borderColor: '#cc88cc', borderWidth: 1, borderDash: [6, 4],
        pointRadius: 0, cubicInterpolationMode: 'monotone', fill: false
      }
    ]
  },
  options: {
    responsive: false,
    animation: false,
    events: [],
    layout: { padding: { left: 2, top: 3, right: 0, bottom: 0 } },
    plugins: { legend: { display: false }, tooltip: { enabled: false } },
    scales: {
      x: {
        type: 'linear', min: X_MIN, max: X_MAX, offset: false, bounds: 'data',
        grid: { drawOnChartArea: false, tickLength: 3, color: '#333' },
        border: { color: '#555' },
        ticks: {
          autoSkip: false, maxRotation: 0, minRotation: 0, padding: 1, color: '#111',
          callback: (v, i) => dateTickLabels[i]
        },
        afterBuildTicks: s => { s.ticks = dateTickIdx.map(v => ({ value: v })); },
        afterFit: s => { s.height = 19; s.paddingLeft = 0; s.paddingRight = 0; }
      },
      y: {
        type: 'linear', position: 'right', min: Y_MIN, max: Y_MAX, bounds: 'data', grace: 0,
        grid: { drawOnChartArea: false, tickLength: 5, color: '#000' },
        border: { color: '#000' },
        ticks: {
          autoSkip: false, padding: 2, color: '#000',
          callback: v => (Math.abs(v * 2 - Math.round(v * 2)) < 1e-6 && v >= priceLabelMin - 1e-6 && v <= priceLabelMax + 1e-6) ? v.toFixed(3) : ''
        },
        afterBuildTicks: s => {
          const t = [];
          for (let k = 991; k <= 1056; k++) t.push({ value: k / 10 });
          s.ticks = t;
        },
        afterFit: s => { s.width = 56; s.paddingTop = 0; s.paddingBottom = 0; }
      }
    }
  },
  plugins: [mainDecor]
});

// oscillator bars: green while rising, red while falling
const aoColors = aoValues.map((v, i) => (i === 0 || v > aoValues[i - 1]) ? '#2fb52f' : '#b03232');

new Chart(document.getElementById('osc'), {
  type: 'bar',
  data: {
    datasets: [{
      data: aoValues.map((v, i) => ({ x: i, y: v })),
      backgroundColor: aoColors, borderWidth: 0, barThickness: 3, grouped: false
    }]
  },
  options: {
    responsive: false,
    animation: false,
    events: [],
    layout: { padding: { left: 2, top: 3, right: 0, bottom: 2 } },
    plugins: { legend: { display: false }, tooltip: { enabled: false } },
    scales: {
      x: { type: 'linear', min: X_MIN, max: X_MAX, offset: false, display: false },
      y: {
        type: 'linear', position: 'right', min: -1.79, max: 1.65, bounds: 'data',
        grid: { drawOnChartArea: false, tickLength: 5, color: '#000' },
        border: { color: '#000' },
        ticks: { autoSkip: false, padding: 2, color: '#000', callback: v => v.toFixed(3) },
        afterBuildTicks: s => { s.ticks = [-1, 0, 1].map(v => ({ value: v })); },
        afterFit: s => { s.width = 56; s.paddingTop = 0; s.paddingBottom = 0; }
      }
    }
  },
  plugins: [oscDecor]
});
</script>
</body>
</html>
